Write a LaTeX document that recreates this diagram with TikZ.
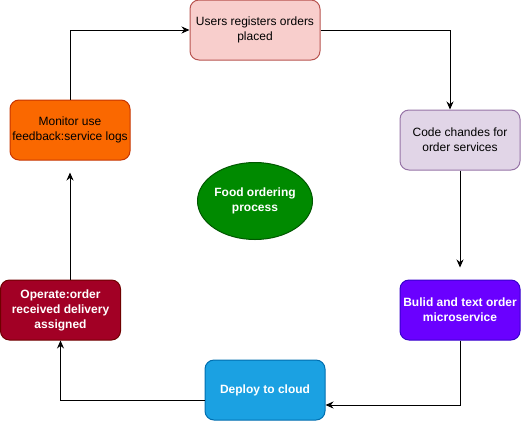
\documentclass[tikz,border=0pt]{standalone}
\usepackage{fontspec}
\setmainfont{Liberation Sans}
\usetikzlibrary{arrows.meta,shapes.geometric}

\definecolor{pinkfill}{HTML}{F8CECC}
\definecolor{pinkline}{HTML}{B85450}
\definecolor{lilacfill}{HTML}{E1D5E7}
\definecolor{lilacline}{HTML}{9673A6}
\definecolor{orangefill}{HTML}{FA6800}
\definecolor{orangeline}{HTML}{C73500}
\definecolor{violetfill}{HTML}{6A00FF}
\definecolor{violetline}{HTML}{3700CC}
\definecolor{crimsonfill}{HTML}{A20025}
\definecolor{crimsonline}{HTML}{6F0000}
\definecolor{bluefill}{HTML}{1BA1E2}
\definecolor{blueline}{HTML}{006EAF}
\definecolor{greenfill}{HTML}{008A00}
\definecolor{greenline}{HTML}{005700}

\tikzset{
  stagebox/.style={draw, rounded corners=9pt, line width=1pt, minimum width=120pt,
    minimum height=60pt, inner sep=0pt, align=center,
    font=\fontsize{12}{15}\selectfont},
  darkbox/.style={stagebox, text=white, font=\fontsize{12}{15}\selectfont\bfseries},
  link/.style={draw, line width=1pt, -{Stealth[length=8pt,width=7pt]}}
}

\begin{document}
\begin{tikzpicture}[x=1pt,y=-1pt]
\useasboundingbox (0,0) rectangle (521,421);

% stages of the cycle
\node[stagebox, fill=pinkfill, draw=pinkline, minimum width=130pt] (users) at (255,30) {Users registers orders\\placed};
\node[stagebox, fill=lilacfill, draw=lilacline] (code) at (460,140) {Code chandes for\\order services};
\node[darkbox, fill=violetfill, draw=violetline] (build) at (460,310) {Bulid and text order\\microservice};
\node[darkbox, fill=bluefill, draw=blueline] (deploy) at (265,390) {Deploy to cloud};
\node[darkbox, fill=crimsonfill, draw=crimsonline] (operate) at (60.5,310) {Operate:order\\received delivery\\assigned};
\node[stagebox, fill=orangefill, draw=orangeline] (monitor) at (70,130) {Monitor use\\feedback:service logs};

% centre
\node[ellipse, draw=greenline, fill=greenfill, line width=1pt, minimum width=110pt, minimum height=77pt,
  inner sep=0pt, align=center, text=white, font=\fontsize{12}{15}\selectfont\bfseries] (food) at (255,201) {Food ordering\\process};

% connectors
\draw[link] (users.east) -| ([xshift=-10pt]code.north);
\draw[link] (code.south) -- ([yshift=12pt]build.north);
\draw[link] (build.south) |- ([yshift=-15pt]deploy.east);
\draw[link] ([yshift=-10pt]deploy.west) -| (operate.south);
\draw[link] ([xshift=9.5pt]operate.north) -- ([yshift=-12pt]monitor.south);
\draw[link] (monitor.north) |- (users.west);
\end{tikzpicture}
\end{document}
